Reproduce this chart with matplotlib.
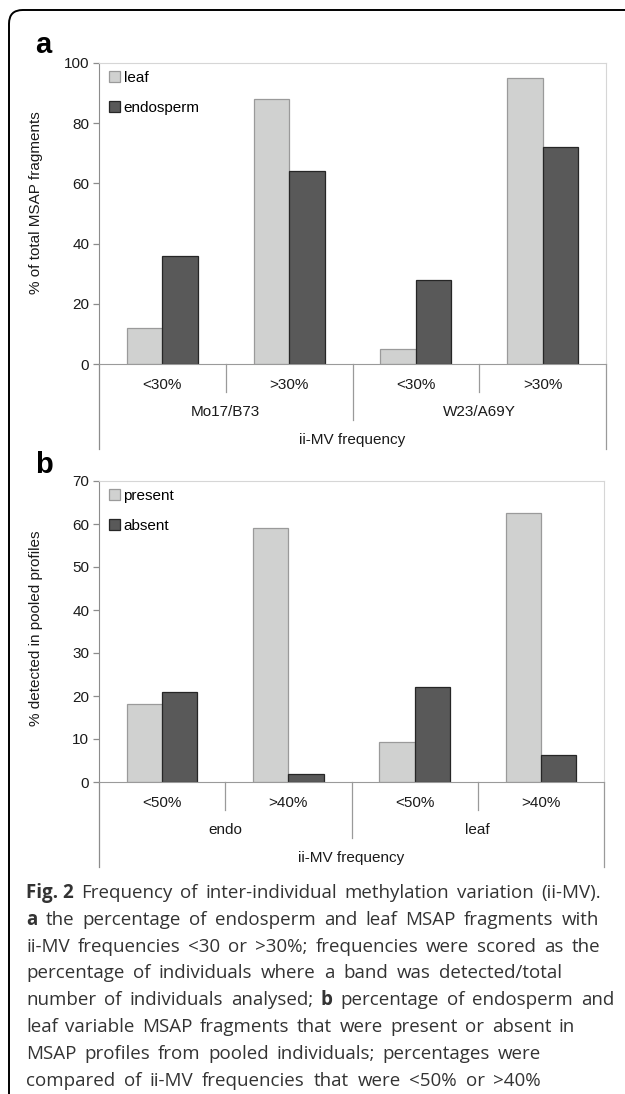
import numpy as np
import matplotlib.pyplot as plt
from matplotlib.patches import FancyBboxPatch

categories_a = ['<30%', '>30%', '<30%', '>30%']
groups_a = ['Mo17/B73', 'W23/A69Y']
leaf = [12, 88, 5, 95]
endosperm = [36, 64, 28, 72]

categories_b = ['<50%', '>40%', '<50%', '>40%']
groups_b = ['endo', 'leaf']
present = [18.2, 59, 9.3, 62.5]
absent = [21, 1.8, 22, 6.3]

caption = [
    [('Fig. 2', True), ('Frequency of inter-individual methylation variation (ii-MV).', False)],
    [('a', True), ('the percentage of endosperm and leaf MSAP fragments with', False)],
    [('ii-MV frequencies <30 or >30%; frequencies were scored as the', False)],
    [('percentage of individuals where a band was detected/total', False)],
    [('number of individuals analysed;', False), ('b', True), ('percentage of endosperm and', False)],
    [('leaf variable MSAP fragments that were present or absent in', False)],
    [('MSAP profiles from pooled individuals; percentages were', False)],
    [('compared of ii-MV frequencies that were <50% or >40%', False)],
]
caption_ends = [601, 599, 600, 562, 614, 575, 541, 541]

W, H = 625, 1094
FONT = ['Liberation Sans Narrow', 'Liberation Sans']
LIGHT = '#d0d1d0'
DARK = '#595959'

fig = plt.figure(figsize=(W / 100, H / 100), dpi=100)


def panel(top, bottom, right, cats, groups, s1, s2, names, ymax, step, ylabel, ylab_y):
    ax = fig.add_axes([99 / W, 1 - bottom / H, (right - 99) / W, (bottom - top) / H])
    hpx = bottom - top
    wpx = right - 99
    x = np.arange(len(cats))
    w = 0.28
    ax.bar(x - w / 2, s1, w, color=LIGHT, edgecolor='#9a9a9a', linewidth=0.9, label=names[0])
    ax.bar(x + w / 2, s2, w, color=DARK, edgecolor='#262626', linewidth=0.9, label=names[1])
    ax.set_xlim(-0.5, len(cats) - 0.5)
    ax.set_ylim(0, ymax)
    ax.set_yticks(np.arange(0, ymax + 1, step))
    ax.set_xticks([])
    ax.tick_params(axis='y', length=4, color='#8c8c8c', width=0.9, pad=3,
                   labelsize=11, labelcolor='#1a1a1a')
    for lab in ax.get_yticklabels():
        lab.set_family(FONT)
    for s in ['top', 'right']:
        ax.spines[s].set_color('#d6d6d6')
    ax.spines['left'].set_color('#8c8c8c')
    ax.spines['bottom'].set_color('#9a9a9a')
    ax.set_ylabel(ylabel, family=FONT, fontsize=11, color='#1a1a1a')
    ax.yaxis.set_label_coords(-56 / wpx, ylab_y)

    tr = ax.get_xaxis_transform()
    lc = '#9a9a9a'
    for xs in [0.5, 2.5]:
        ax.plot([xs, xs], [0, -28 / hpx], color=lc, lw=0.9, transform=tr, clip_on=False)
    ax.plot([1.5, 1.5], [0, -56 / hpx], color=lc, lw=0.9, transform=tr, clip_on=False)
    ax.plot([-0.5, -0.5], [0, -85 / hpx], color='#8c8c8c', lw=0.9, transform=tr, clip_on=False)
    ax.plot([3.5, 3.5], [0, -85 / hpx], color=lc, lw=0.9, transform=tr, clip_on=False)

    for xi, c in zip(x, cats):
        ax.text(xi, -21 / hpx, c, transform=tr, ha='center', va='center',
                family=FONT, fontsize=11, color='#1a1a1a')
    for gi, g in enumerate(groups):
        ax.text(gi * 2 + 0.5, -48 / hpx, g, transform=tr, ha='center', va='center',
                family=FONT, fontsize=11, color='#1a1a1a')
    ax.text(1.5, -76 / hpx, 'ii-MV frequency', transform=tr, ha='center', va='center',
            family=FONT, fontsize=11, color='#1a1a1a')

    ax.legend(loc='upper left', bbox_to_anchor=(10 / wpx, 1 - 8 / hpx), frameon=False,
              borderpad=0, borderaxespad=0, handlelength=0.7, handleheight=0.7,
              handletextpad=0.25, labelspacing=1.05,
              prop={'family': FONT, 'size': 11})
    return ax


panel(63, 364, 606, categories_a, groups_a, leaf, endosperm, ['leaf', 'endosperm'],
      100, 20, '% of total MSAP fragments', 0.535)
panel(481, 782, 604, categories_b, groups_b, present, absent, ['present', 'absent'],
      70, 10, '% detected in pooled profiles', 0.51)

fig.text(35 / W, 1 - 53 / H, 'a', fontsize=21, fontweight='bold', family='Liberation Sans', va='baseline')
fig.text(35 / W, 1 - 473 / H, 'b', fontsize=21, fontweight='bold', family='Liberation Sans', va='baseline')

# frame around figure + caption
frame = FancyBboxPatch((9 / W, -0.05), 1.2, 1.05 - 10 / H,
                       boxstyle='round,pad=0,rounding_size=0.022', transform=fig.transFigure,
                       fill=False, edgecolor='black', linewidth=1.4, mutation_aspect=W / H)
fig.patches.append(frame)

# caption, justified word by word
renderer = fig.canvas.get_renderer()
cap_kw = dict(family='Open Sans', fontsize=13.5, color='#333333', va='baseline')
space = fig.text(0, 0, 'a a', **cap_kw)
sp_w = space.get_window_extent(renderer).width
aa = fig.text(0, 0, 'aa', **cap_kw)
sp_w = sp_w - aa.get_window_extent(renderer).width
space.remove()
aa.remove()

for i, line in enumerate(caption):
    y = 1 - (898 + i * 26.8) / H
    words = []
    for txt, bold in line:
        if bold:
            words.append((txt, bold))
        else:
            words += [(wd, False) for wd in txt.split(' ')]
    arts = []
    for wd, bold in words:
        t = fig.text(0, y, wd, fontweight='bold' if bold else 'normal', **cap_kw)
        arts.append((t, t.get_window_extent(renderer).width))
    total = sum(a[1] for a in arts)
    gap = (caption_ends[i] - 26 - total) / (len(arts) - 1)
    gap = max(gap, 0.9 * sp_w)
    xpos = 26
    for t, wdt in arts:
        t.set_x(xpos / W)
        xpos += wdt + gap

fig.savefig('out.png', dpi=100)
